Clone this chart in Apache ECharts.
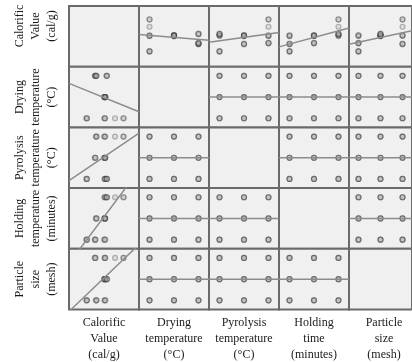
<!DOCTYPE html>
<html>
<head>
<meta charset="utf-8">
<script src="https://cdn.jsdelivr.net/npm/echarts@6/dist/echarts.min.js"></script>
<style>
  html, body {margin: 0; padding: 0; background: #fff;}
  #chart {width: 412px; height: 362px;}
</style>
</head>
<body>
<div id="chart"></div>
<script>
// 9 runs x 3 replicates
const drying = [60, 60, 60, 60, 60, 60, 60, 60, 60, 80, 80, 80, 80, 80, 80, 80, 80, 80, 100, 100, 100, 100, 100, 100, 100, 100, 100];
const pyrolysis = [300, 300, 300, 400, 400, 400, 500, 500, 500, 300, 300, 300, 400, 400, 400, 500, 500, 500, 300, 300, 300, 400, 400, 400, 500, 500, 500];
const holding = [30, 30, 30, 60, 60, 60, 90, 90, 90, 60, 60, 60, 90, 90, 90, 30, 30, 30, 90, 90, 90, 30, 30, 30, 60, 60, 60];
const particle = [20, 20, 20, 40, 40, 40, 60, 60, 60, 60, 60, 60, 20, 20, 20, 40, 40, 40, 40, 40, 40, 60, 60, 60, 20, 20, 20];
const calorific = [5170, 5180, 5190, 5660, 5670, 5680, 5950, 6175, 6185, 5665, 5675, 5685, 5660, 5675, 5690, 5655, 5670, 5685, 5715, 5725, 5735, 5400, 5410, 5420, 5430, 5440, 5450];

const rowLabels = ['Calorific\nValue\n(cal/g)', 'Drying\ntemperature\n(°C)', 'Pyrolysis\ntemperature\n(°C)', 'Holding\ntemperature\n(minutes)', 'Particle\nsize\n(mesh)'];
const colLabels = ['Calorific\nValue\n(cal/g)', 'Drying\ntemperature\n(°C)', 'Pyrolysis\ntemperature\n(°C)', 'Holding\ntime\n(minutes)', 'Particle\nsize\n(mesh)'];
const calRange = [4700, 6600];

const vars = [calorific, drying, pyrolysis, holding, particle];
const N = vars.length;
const left0 = 69, top0 = 6, cw = 70, ch = 60.7;

const range = (arr, i) => {
  if (i === 0) return calRange;
  const lv = [...new Set(arr)].sort((a, b) => a - b);
  const step = lv[1] - lv[0];
  return [lv[0] - 0.43 * step, lv[lv.length - 1] + 0.43 * step];
};
const ranges = vars.map(range);

// least squares y on x
const fit = (xs, ys) => {
  const n = xs.length;
  const mx = xs.reduce((s, v) => s + v, 0) / n;
  const my = ys.reduce((s, v) => s + v, 0) / n;
  let sxy = 0, sxx = 0;
  xs.forEach((x, k) => { sxy += (x - mx) * (ys[k] - my); sxx += (x - mx) * (x - mx); });
  const b = sxy / sxx;
  return x => my + b * (x - mx);
};

const grid = [], xAxis = [], yAxis = [], series = [];
for (let r = 0; r < N; r++) {
  for (let c = 0; c < N; c++) {
    const i = r * N + c;
    grid.push({
      left: left0 + c * cw, top: top0 + r * ch, width: cw, height: ch,
      show: true, backgroundColor: '#f0f0f0', borderColor: '#6a6a6a', borderWidth: 2
    });
    xAxis.push({type: 'value', gridIndex: i, min: ranges[c][0], max: ranges[c][1], show: false, splitLine: {show: false}});
    yAxis.push({type: 'value', gridIndex: i, min: ranges[r][0], max: ranges[r][1], show: false, splitLine: {show: false}});
    if (r === c) continue;
    const xs = vars[c], ys = vars[r];
    series.push({
      type: 'scatter', xAxisIndex: i, yAxisIndex: i, symbolSize: 5,
      itemStyle: {color: 'rgba(170,170,170,0.35)', borderColor: 'rgba(45,45,45,0.38)', borderWidth: 1.2},
      data: xs.map((x, k) => [x, ys[k]])
    });
    const f = fit(xs, ys);
    series.push({
      type: 'line', xAxisIndex: i, yAxisIndex: i, symbol: 'none', clip: true, silent: true,
      lineStyle: {color: '#8c8c8c', width: 1.5},
      data: [[ranges[c][0], f(ranges[c][0])], [ranges[c][1], f(ranges[c][1])]]
    });
  }
}

const font = '12px "Liberation Serif", "DejaVu Serif", serif';
const graphic = [];
rowLabels.forEach((t, r) => {
  graphic.push({
    type: 'text', x: 36, y: r === 0 ? 26 : top0 + (r + 0.5) * ch, rotation: Math.PI / 2,
    style: {text: t, font, fill: '#1a1a1a', align: 'center', verticalAlign: 'middle', lineHeight: 16}
  });
});
colLabels.forEach((t, c) => {
  graphic.push({
    type: 'text', x: left0 + (c + 0.5) * cw, y: 339,
    style: {text: t, font, fill: '#1a1a1a', align: 'center', verticalAlign: 'middle', lineHeight: 16}
  });
});

const myChart = echarts.init(document.getElementById('chart'));
myChart.setOption({
  animation: false,
  backgroundColor: '#fff',
  grid, xAxis, yAxis, series, graphic
});
</script>
</body>
</html>
